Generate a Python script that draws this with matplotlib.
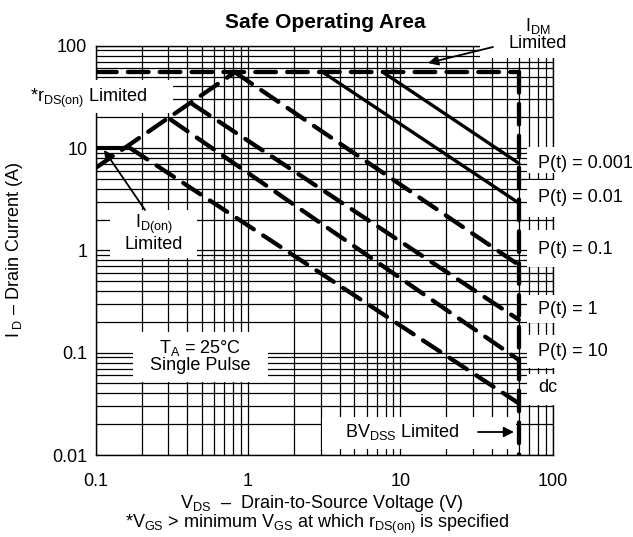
import matplotlib
matplotlib.use("Agg")
import matplotlib.pyplot as plt
from matplotlib.patches import Rectangle
from matplotlib.ticker import LogLocator, NullFormatter, FixedLocator, FixedFormatter

plt.rcParams["font.family"] = ["Liberation Sans", "DejaVu Sans"]
plt.rcParams["mathtext.fontset"] = "custom"
plt.rcParams["mathtext.rm"] = "Liberation Sans"
plt.rcParams["mathtext.it"] = "Liberation Sans:italic"
plt.rcParams["mathtext.bf"] = "Liberation Sans:bold"

# ---- limits of the device ----
bv_dss = 60.0            # V, breakdown limit
i_dm = 55.0              # A, pulsed drain current limit
i_d_on = 10.0            # A, continuous on-state limit

# r_DS(on) limited line (rising)
rds_v = [0.1, 0.82]
rds_i = [6.4, 55.0]

# I_D(on) limited segment
idon_v = [0.1, 0.168]
idon_i = [i_d_on, i_d_on]

# pulse-width curves: start point on the limit lines, end at BV_DSS
pulse_labels = ["P(t) = 0.001", "P(t) = 0.01", "P(t) = 0.1", "P(t) = 1", "P(t) = 10", "dc"]
pulse_start_v = [7.7, 3.1, 0.82, 0.43, 0.31, 0.168]
pulse_start_i = [55.0, 55.0, 55.0, 27.0, 19.0, 10.0]
pulse_end_i = [7.1, 2.9, 0.72, 0.21, 0.085, 0.032]
pulse_solid = [True, True, False, False, False, False]

x_ticks = [0.1, 1, 10, 100]
x_tick_labels = ["0.1", "1", "10", "100"]
y_ticks = [0.01, 0.1, 1, 10, 100]
y_tick_labels = ["0.01", "0.1", "1", "10", "100"]

W, H = 633, 537
fig = plt.figure(figsize=(W / 100, H / 100), dpi=100)
ax_l, ax_r, ax_t, ax_b = 95.7, 552.6, 45.7, 455.0
ax = fig.add_axes([ax_l / W, 1 - ax_b / H, (ax_r - ax_l) / W, (ax_b - ax_t) / H])


def frac(x, y):
    """Pixel position on the sheet -> axes fraction."""
    return ((x - ax_l) / (ax_r - ax_l), (ax_b - y) / (ax_b - ax_t))


ax.set_xscale("log")
ax.set_yscale("log")
ax.set_xlim(0.1, 100)
ax.set_ylim(0.01, 100)

ax.xaxis.set_major_locator(FixedLocator(x_ticks))
ax.xaxis.set_major_formatter(FixedFormatter(x_tick_labels))
ax.yaxis.set_major_locator(FixedLocator(y_ticks))
ax.yaxis.set_major_formatter(FixedFormatter(y_tick_labels))
for axis in (ax.xaxis, ax.yaxis):
    axis.set_minor_locator(LogLocator(base=10, subs=range(2, 10), numticks=20))
    axis.set_minor_formatter(NullFormatter())

ax.grid(which="both", color="black", lw=0.9)
ax.tick_params(which="both", length=0, labelsize=13, colors="black")
ax.tick_params(axis="x", pad=13)
ax.tick_params(axis="y", pad=6)
for sp in ax.spines.values():
    sp.set_linewidth(1.0)

# white label areas that break the grid
covers = [
    (88, 80, 173, 113),     # r_DS(on) limited
    (110, 210, 197, 258),   # I_D(on) limited
    (133, 332, 268, 382),   # T_A / single pulse
    (322, 417, 516, 449),   # BV_DSS limited
    (480, -10, 650, 58),    # I_DM limited
    (527, 147, 650, 173),
    (527, 180, 650, 217),
    (527, 230, 650, 267),
    (527, 295, 650, 323),
    (527, 335, 650, 368),
    (527, 374, 650, 405),
]
for x0, y0, x1, y1 in covers:
    fx0, fy0 = frac(x0, y1)
    fx1, fy1 = frac(x1, y0)
    ax.add_patch(Rectangle((fx0, fy0), fx1 - fx0, fy1 - fy0, transform=ax.transAxes,
                           facecolor="white", edgecolor="none", zorder=2.6, clip_on=False))

dash_style = dict(color="black", lw=3.1, dashes=(4.8, 2.6), dash_capstyle="round",
                  solid_capstyle="round", zorder=3)

# limit lines
ax.plot([0.1, bv_dss], [i_dm, i_dm], **dash_style)
ax.plot([bv_dss, bv_dss], [i_dm, 0.01], **dash_style)
ax.plot(rds_v, rds_i, **dash_style)
ax.plot(idon_v, idon_i, color="black", lw=3.0, solid_capstyle="butt", zorder=3)

# pulse curves
for v0, i0, i1, solid in zip(pulse_start_v, pulse_start_i, pulse_end_i, pulse_solid):
    if solid:
        ax.plot([v0, bv_dss], [i0, i1], color="black", lw=2.4, solid_capstyle="round", zorder=3)
    else:
        ax.plot([v0, bv_dss], [i0, i1], **dash_style)

# labels
txt = dict(transform=ax.transAxes, fontsize=13, zorder=5, va="center")
label_y = [163, 198, 249, 310, 351, 388]
for lab, y in zip(pulse_labels, label_y):
    ax.text(*frac(538, y), lab, ha="left", clip_on=False, **txt)

ax.text(*frac(30, 98), r"*$\mathregular{r_{DS(on)}}$ Limited", ha="left", clip_on=False, **txt)
ax.text(*frac(154, 233), "$\\mathregular{I_{D(on)}}$\nLimited", ha="center",
        linespacing=1.0, **txt)
ax.text(*frac(200, 356), "$\\mathregular{T_A}$ = 25°C\nSingle Pulse", ha="center",
        linespacing=1.0, **txt)
ax.text(*frac(402, 432), r"$\mathregular{BV_{DSS}}$ Limited", ha="center", **txt)
ax.text(*frac(538, 34), "$\\mathregular{I_{DM}}$\nLimited", ha="center",
        linespacing=1.0, clip_on=False, **txt)

arrow = dict(arrowstyle="-|>", color="black", lw=1.3, mutation_scale=15,
             shrinkA=0, shrinkB=0)
for tail, tip in [((493, 47), (428, 63)), ((145, 210), (104, 150)), ((478, 432), (514, 432))]:
    ax.annotate("", xy=frac(*tip), xytext=frac(*tail), xycoords="axes fraction",
                textcoords="axes fraction", arrowprops=arrow, zorder=5)

fig.text(325 / W, 1 - 22 / H, "Safe Operating Area", fontsize=15, fontweight="bold",
         ha="center", va="center")
fig.text(15 / W, 1 - 250 / H, r"$\mathregular{I_{\ D}}$ – Drain Current (A)", rotation=90,
         fontsize=13, ha="center", va="center")
fig.text(322 / W, 1 - 503 / H, r"$\mathregular{V_{DS}}$  –  Drain-to-Source Voltage (V)",
         fontsize=13, ha="center", va="center")
fig.text(317 / W, 1 - 524 / H,
         r"*$\mathregular{V_{GS}}$ > minimum $\mathregular{V_{GS}}$ at which "
         r"$\mathregular{r_{DS(on)}}$ is specified",
         fontsize=13, ha="center", va="center")

fig.savefig("out.png", dpi=100, facecolor="white")
